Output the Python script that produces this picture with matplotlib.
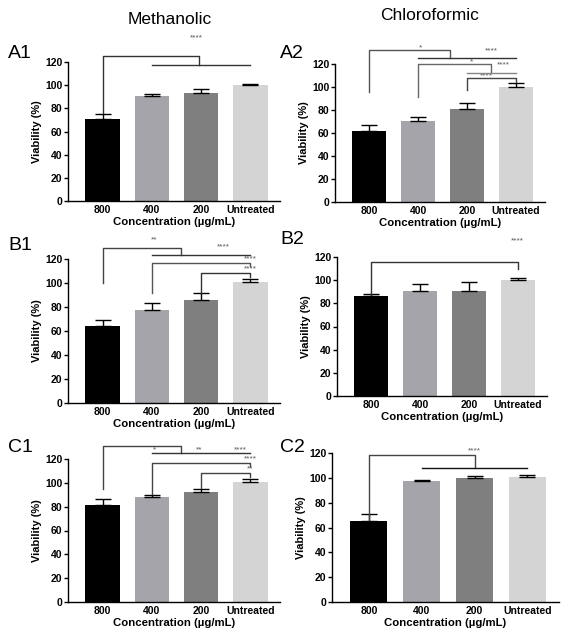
import matplotlib
matplotlib.use("Agg")
import matplotlib.pyplot as plt

plt.rcParams['font.family'] = ['Liberation Sans', 'DejaVu Sans']

W, H = 571, 643

categories = ["800", "400", "200", "Untreated"]
bar_colors = ["#000000", "#a4a4aa", "#7f7f7f", "#d4d4d4"]

a1_mean = [70.5, 91, 93.5, 100.5]
a1_err = [5, 1.5, 3, 0.8]
a2_mean = [62, 70.5, 80.5, 100]
a2_err = [5, 3, 5.5, 3.5]
b1_mean = [64, 77.5, 85.5, 100.5]
b1_err = [5.5, 6, 6.5, 3]
b2_mean = [86, 91, 91, 100]
b2_err = [2, 5.5, 7, 1.5]
c1_mean = [81.5, 88.5, 92, 100.5]
c1_err = [5, 1, 2.5, 2.5]
c2_mean = [65, 97.5, 100, 100.5]
c2_err = [5.5, 1, 1.5, 1.5]

fig = plt.figure(figsize=(W / 100, H / 100), dpi=100)


def make_ax(x0, y0, x1, y1):
    return fig.add_axes([x0 / W, 1 - y1 / H, (x1 - x0) / W, (y1 - y0) / H])


def panel(ax, means, errs, label, lx, ly):
    xs = range(len(categories))
    ax.bar(xs, means, width=0.7, color=bar_colors, zorder=2)
    ax.errorbar(xs, means, yerr=[[0] * len(errs), errs], fmt="none",
                ecolor="black", elinewidth=1, capsize=6, capthick=1, zorder=3)
    ax.set_xlim(-0.7, 3.6)
    ax.set_ylim(0, 120)
    ax.set_yticks(range(0, 121, 20))
    ax.set_xticks(list(xs))
    ax.set_xticklabels(categories)
    ax.spines['top'].set_visible(False)
    ax.spines['right'].set_visible(False)
    for s in ('left', 'bottom'):
        ax.spines[s].set_linewidth(1)
    ax.tick_params(axis='both', length=3, width=1, pad=1, labelsize=7.5)
    ax.tick_params(axis='x', length=0, pad=3)
    for t in ax.get_xticklabels() + ax.get_yticklabels():
        t.set_fontweight('bold')
    ax.set_ylabel("Viability (%)", fontsize=8, fontweight='bold', labelpad=2)
    ax.set_xlabel("Concentration (\u00b5g/mL)", fontsize=8.2, fontweight='bold', labelpad=1)
    fig.text(lx / W, 1 - ly / H, label, fontsize=14, ha='left', va='center')


def line(ax, pts, color="#333333"):
    xs = [p[0] for p in pts]
    ys = [p[1] for p in pts]
    ax.plot(xs, ys, color=color, lw=1, clip_on=False, zorder=4)


def stars(ax, x, y, s):
    ax.text(x, y, s, fontsize=6, color="#555555", ha='center', va='bottom')


# A1
ax = make_ax(68, 62, 280, 201)
panel(ax, a1_mean, a1_err, "A1", 8, 53)
line(ax, [(0, 76), (0, 125), (1.95, 125), (1.95, 117)])
line(ax, [(1, 117), (3, 117)])
stars(ax, 1.9, 138, "****")

# A2
ax = make_ax(335, 64, 545, 202)
panel(ax, a2_mean, a2_err, "A2", 280, 53)
line(ax, [(0, 96), (0, 132), (1.65, 132), (1.65, 125)], "#555555")
line(ax, [(1, 125), (3, 125)])
line(ax, [(1, 91), (1, 120), (2.5, 120), (2.5, 112)], "#666666")
line(ax, [(2, 112), (3, 112)], "#888888")
line(ax, [(2, 97), (2, 108), (3, 108), (3, 104)], "#444444")
stars(ax, 1.05, 131, "*")
stars(ax, 2.5, 128, "****")
stars(ax, 2.1, 119, "*")
stars(ax, 2.75, 116, "****")
stars(ax, 2.4, 107, "****")

# B1
ax = make_ax(68, 259, 280, 403)
panel(ax, b1_mean, b1_err, "B1", 8, 245)
line(ax, [(0, 100), (0, 129), (1.6, 129), (1.6, 123)], "#444444")
line(ax, [(1, 123), (3, 123)])
line(ax, [(1, 92), (1, 117), (3, 117), (3, 114)], "#555555")
line(ax, [(2, 92), (2, 108), (3, 108), (3, 105)])
stars(ax, 1.05, 133, "**")
stars(ax, 2.45, 127, "****")
stars(ax, 3, 117.5, "****")
stars(ax, 3, 108.5, "****")

# B2
ax = make_ax(337, 257, 547, 396)
panel(ax, b2_mean, b2_err, "B2", 280, 240)
line(ax, [(0, 87), (0, 116), (3, 116), (3, 110)])
stars(ax, 3, 131, "****")

# C1
ax = make_ax(68, 459, 280, 602)
panel(ax, c1_mean, c1_err, "C1", 8, 447)
line(ax, [(0, 95), (0, 131), (1.6, 131), (1.6, 125)], "#444444")
line(ax, [(1, 125), (3, 125)])
line(ax, [(1, 91), (1, 117), (3, 117), (3, 114)], "#444444")
line(ax, [(2, 96), (2, 108), (3, 108), (3, 105)], "#444444")
stars(ax, 1.05, 125, "*")
stars(ax, 1.95, 125, "**")
stars(ax, 2.8, 125, "****")
stars(ax, 3, 117.5, "****")
stars(ax, 3, 108.5, "**")

# C2
ax = make_ax(332, 453, 559, 602)
panel(ax, c2_mean, c2_err, "C2", 280, 447)
line(ax, [(0, 66), (0, 118), (2.0, 118), (2.0, 108)], "#444444")
line(ax, [(1, 108), (3, 108)], "#111111")
stars(ax, 2.0, 119, "****")

fig.text(170 / W, 1 - 19 / H, "Methanolic", fontsize=12.5, ha='center', va='center')
fig.text(430 / W, 1 - 15 / H, "Chloroformic", fontsize=12.5, ha='center', va='center')

fig.savefig("out.png", dpi=100)
